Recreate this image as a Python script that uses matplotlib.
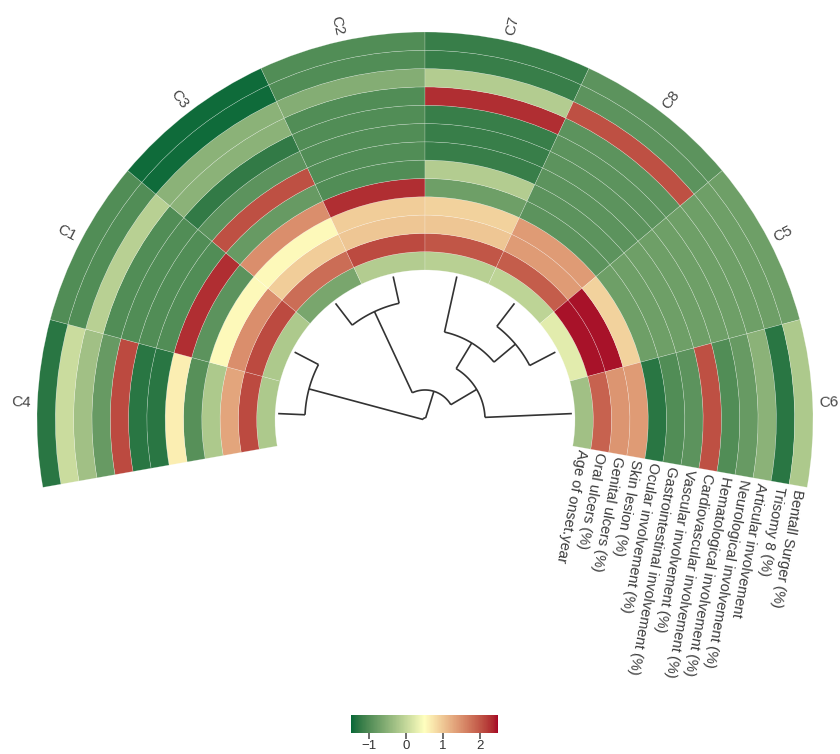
import numpy as np
import matplotlib
matplotlib.use("Agg")
import matplotlib.pyplot as plt
from matplotlib.colors import ListedColormap, Normalize, to_rgb
from matplotlib.colorbar import ColorbarBase

plt.rcParams["font.family"] = ["Liberation Sans", "DejaVu Sans"]

# ---------------------------------------------------------------- data
clusters = ["C4", "C1", "C3", "C2", "C7", "C8", "C5", "C6"]

# features from the innermost ring to the outermost ring
features = [
    "Age of onset.year",
    "Oral ulcers (%)",
    "Genital ulcers (%)",
    "Skin lesion (%)",
    "Ocular involvement (%)",
    "Gastrointestinal involvement (%)",
    "Vascular involvement (%)",
    "Cardiovascular involvement (%)",
    "Hematological involvement (%)",
    "Neurological involvement (%)",
    "Articular involvement",
    "Trisomy 8 (%)",
    "Bentall Surger (%)",
]

# scaled feature values per cluster (same order as `features`)
c4 = [-0.20, 2.10, 1.30, -0.20, -0.95, 0.65, -1.30, -1.30, 2.10, -0.80, -0.30, 0.05, -1.30]
c1 = [-0.20, 2.10, 1.50, 0.55, -0.90, 2.30, -1.00, -1.00, -1.00, -1.00, -0.10, -1.00, -1.00]
c3 = [-0.65, 1.80, 0.95, 0.55, 1.50, -0.80, 2.05, -0.90, -1.25, -0.50, -0.50, -1.45, -1.45]
c2 = [-0.15, 2.10, 1.00, 0.95, 2.30, -1.00, -1.00, -1.00, -1.00, -1.00, -0.55, -1.00, -1.00]
c7 = [-0.10, 2.00, 1.00, 0.90, -0.75, -0.15, -1.20, -1.20, -1.20, 2.30, -0.15, -1.20, -1.20]
c8 = [-0.05, 1.95, 1.40, 1.40, -0.90, -0.90, -0.90, -0.90, -0.90, -0.90, 2.05, -0.90, -0.90]
c5 = [0.25, 2.45, 2.45, 0.90, -0.75, -0.75, -0.75, -0.75, -0.75, -0.75, -0.75, -0.75, -0.75]
c6 = [-0.30, 1.90, 1.45, 1.40, -1.30, -1.00, -0.90, 2.05, -1.00, -0.80, -0.50, -1.30, -0.20]
values = np.array([c4, c1, c3, c2, c7, c8, c5, c6])

# hierarchical clustering of the clusters: (child a, child b, merge height);
# leaves are 0..7 in display order, new nodes are numbered from 8 upward
merges = [
    (0, 1, 2.60),
    (2, 3, 2.65),
    (5, 6, 2.80),
    (4, 10, 5.50),
    (11, 7, 8.40),
    (9, 12, 11.30),
    (8, 13, 14.00),
]

# colour scale breaks
breaks = [-1.5, 0.5, 2.5]
break_colors = ["#006837", "#FFFFBF", "#A50026"]
cbar_ticks = [-1, 0, 1, 2]

# ---------------------------------------------------------------- colour ramp (interpolated in CIE Lab)
_M = np.array([[0.4124564, 0.3575761, 0.1804375],
               [0.2126729, 0.7151522, 0.0721750],
               [0.0193339, 0.1191920, 0.9503041]])
_W = np.array([0.95047, 1.0, 1.08883])
_D = 6 / 29


def to_lab(c):
    rgb = np.array(to_rgb(c))
    lin = np.where(rgb <= 0.04045, rgb / 12.92, ((rgb + 0.055) / 1.055) ** 2.4)
    xyz = _M @ lin / _W
    f = np.where(xyz > _D ** 3, np.cbrt(xyz), xyz / (3 * _D * _D) + 4 / 29)
    return np.array([116 * f[1] - 16, 500 * (f[0] - f[1]), 200 * (f[1] - f[2])])


def from_lab(lab):
    L, a, b = lab[:, 0], lab[:, 1], lab[:, 2]
    fy = (L + 16) / 116
    f = np.stack([fy + a / 500, fy, fy - b / 200], axis=1)
    xyz = np.where(f > _D, f ** 3, 3 * _D * _D * (f - 4 / 29)) * _W
    lin = np.clip(xyz @ np.linalg.inv(_M).T, 0, 1)
    rgb = np.where(lin <= 0.0031308, 12.92 * lin, 1.055 * lin ** (1 / 2.4) - 0.055)
    return np.clip(rgb, 0, 1)


samples = np.linspace(breaks[0], breaks[-1], 256)
labs = [to_lab(c) for c in break_colors]
lab_out = np.zeros((256, 3))
for k, v in enumerate(samples):
    i = min(np.searchsorted(breaks, v, side="right") - 1, len(breaks) - 2)
    t = (v - breaks[i]) / (breaks[i + 1] - breaks[i])
    lab_out[k] = labs[i] * (1 - t) + labs[i + 1] * t
cmap = ListedColormap(from_lab(lab_out))
norm = Normalize(vmin=breaks[0], vmax=breaks[-1])

# ---------------------------------------------------------------- layout
W, H = 840, 754
cx, cy = 425, 420          # circle centre in pixels (from top-left)
R_AX = 420                 # polar axes radius in pixels (1 r-unit = 1 px)
r_in, r_out = 150.0, 388.0
ring_w = (r_out - r_in) / len(features)
start_deg, sector_deg = 190.0, 25.0
r_leaf = 147.0

fig = plt.figure(figsize=(W / 100, H / 100), dpi=100)
ax = fig.add_axes([(cx - R_AX) / W, (H - cy - R_AX) / H, 2 * R_AX / W, 2 * R_AX / H],
                  projection="polar")
ax.set_ylim(0, R_AX)
ax.set_axis_off()

# sector centres (degrees) going clockwise
centers = [start_deg - sector_deg * (i + 0.5) for i in range(len(clusters))]

# heatmap rings
for i, name in enumerate(clusters):
    th = np.deg2rad(centers[i])
    for j in range(len(features)):
        ax.bar(th, ring_w, width=np.deg2rad(sector_deg), bottom=r_in + j * ring_w,
               color=cmap(norm(values[i, j])), edgecolor=(1, 1, 1, 0.4),
               linewidth=0.35, align="center")

# sector labels
for i, name in enumerate(clusters):
    deg = centers[i]
    rot = deg - 180 if deg > 90 else deg
    ax.text(np.deg2rad(deg), 404, name, rotation=rot, rotation_mode="anchor",
            ha="center", va="center", fontsize=11, color="#444444")

# feature labels at the end of the track
end_deg = start_deg - sector_deg * len(clusters)
lab_deg = end_deg - 0.6
for j, feat in enumerate(features):
    ax.text(np.deg2rad(lab_deg), r_in + (j + 0.5) * ring_w, feat,
            rotation=lab_deg - 90, rotation_mode="anchor",
            ha="left", va="center", fontsize=10.5, color="#3a3a3a")

# dendrogram
h_top = 14.2
node_ang = {i: centers[i] for i in range(len(clusters))}
node_r = {i: r_leaf for i in range(len(clusters))}
line_kw = dict(color="#333333", lw=1.2, solid_capstyle="butt")
nid = len(clusters)
for a, b, h in merges:
    r = r_leaf * (1 - h / h_top)
    for child in (a, b):
        t = np.deg2rad(node_ang[child])
        ax.plot([t, t], [node_r[child], r], **line_kw)
    arc = np.deg2rad(np.linspace(node_ang[a], node_ang[b], 80))
    ax.plot(arc, np.full_like(arc, r), **line_kw)
    node_ang[nid] = (node_ang[a] + node_ang[b]) / 2
    node_r[nid] = r
    nid += 1

# colour legend
x0, x1 = 350.7, 498.3
y0, y1 = 715.0, 732.7
cax = fig.add_axes([x0 / W, (H - y1) / H, (x1 - x0) / W, (y1 - y0) / H])
cb = ColorbarBase(cax, cmap=cmap, norm=norm, orientation="horizontal", ticks=cbar_ticks)
cb.outline.set_visible(False)
cax.tick_params(length=4.5, width=1.2, color="#555555", labelsize=9.5,
                labelcolor="#333333", pad=1)

fig.savefig("out.png", dpi=100)
